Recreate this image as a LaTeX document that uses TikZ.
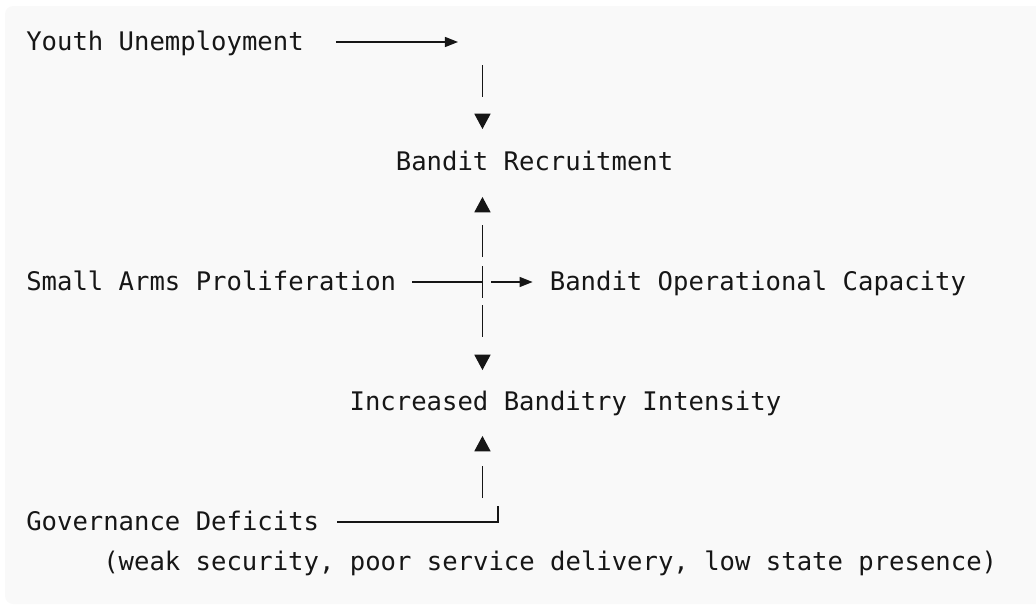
\documentclass[tikz,border=0pt]{standalone}
\usepackage{fontspec}
\usetikzlibrary{positioning,calc,arrows.meta}
\newfontfamily\asciifont{DejaVu Sans Mono}

\begin{document}
\begin{tikzpicture}[x=0.75pt,y=-0.75pt]
       \definecolor{panel}{HTML}{F9F9F9}
       \definecolor{ink}{HTML}{161616}
       \newcommand{\colw}[0]{15.4}
       \tikzstyle{factor} = [anchor=base west, inner sep=0pt, text height=14pt, text depth=2pt, text=ink, font=\asciifont\fontsize{19.2pt}{23pt}\selectfont]
       \tikzstyle{wire}   = [draw=ink, line width=1.1pt]
       \tikzstyle{feed}   = [wire, -{Triangle[length=9.75pt, width=7.5pt]}]
       \tikzstyle{riser}  = [wire, dash pattern=on 24pt off 60pt, -{Triangle[length=11.5pt, width=12pt]}]

       \useasboundingbox (0,0) rectangle (1036,607);
       \fill [panel, rounded corners=6pt] (5,6) rectangle (1050,604);

       \node [factor] (youth)     at (26, 50)               {Youth Unemployment};
       \node [factor] (recruit)   at (26+24*\colw, 170)     {Bandit Recruitment};
       \node [factor] (arms)      at (26, 290)              {Small Arms Proliferation};
       \node [factor] (capacity)  at (26+34*\colw, 290)     {Bandit Operational Capacity};
       \node [factor] (intensity) at (26+21*\colw, 410)     {Increased Banditry Intensity};
       \node [factor] (gov)       at (26, 530)              {Governance Deficits};
       \node [factor] (govnote)   at (26+5*\colw, 570)      {(weak security, poor service delivery, low state presence)};

       % youth -> recruitment
       \draw [feed] ($(youth.east)+(32,0)$) -- ++(122,0) coordinate (youthtip);
       \coordinate (spine) at ($(youthtip)+(24.5,0)$);
       \draw [riser] ($(spine |- youth.east)+(0,23)$) -- ($(spine |- recruit.north)+(0,-22)$);

       % small arms cross
       \draw [wire]  ($(arms.east)+(16,0)$) -- (spine |- arms.east);
       \draw [wire]  ($(spine |- arms.east)+(0,-16)$) -- ++(0,32);
       \draw [feed]  ($(spine |- arms.east)+(9,0)$) -- ($(capacity.west)+(-17,0)$);
       \draw [riser] ($(spine |- arms.east)+(0,-25)$) -- ($(spine |- recruit.south)+(0,24)$);
       \draw [riser] ($(spine |- arms.east)+(0,23)$) -- ($(spine |- intensity.north)+(0,-21)$);

       % governance -> intensity
       \draw [wire]  ($(gov.east)+(18,0)$) -| ($(spine |- gov.east)+(15.5,-16)$);
       \draw [riser] ($(spine |- gov.east)+(0,-24)$) -- ($(spine |- intensity.south)+(0,23)$);
\end{tikzpicture}
\end{document}
